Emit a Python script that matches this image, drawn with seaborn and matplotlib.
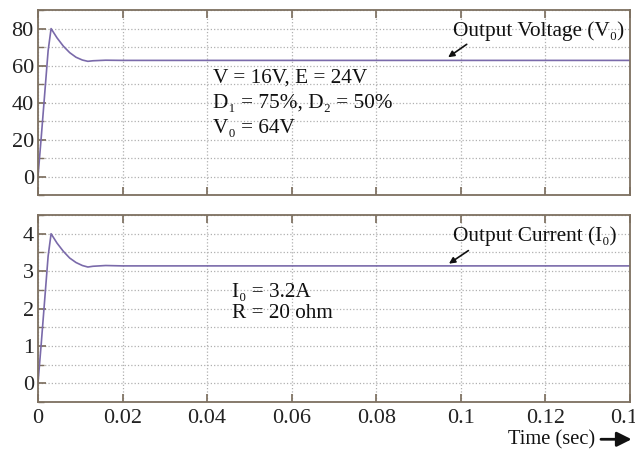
import numpy as np
import pandas as pd
import matplotlib
matplotlib.use('Agg')
import matplotlib.pyplot as plt
import seaborn as sns
from matplotlib.ticker import MultipleLocator

# datos
t_voltaje = [0, 0.0008, 0.0016, 0.0024, 0.0031, 0.0045, 0.006, 0.0075, 0.009, 0.0105, 0.0118, 0.013, 0.016, 0.02, 0.14]
voltaje = [0, 22, 45, 68, 80, 75, 70.5, 67, 64.5, 63, 62.3, 62.6, 62.9, 62.8, 62.8]
t_corriente = [0, 0.0008, 0.0016, 0.0024, 0.0031, 0.0045, 0.006, 0.0075, 0.009, 0.0105, 0.0118, 0.013, 0.016, 0.02, 0.14]
corriente = [0, 1.1, 2.25, 3.4, 4.0, 3.75, 3.53, 3.35, 3.23, 3.15, 3.11, 3.13, 3.15, 3.14, 3.14]

xticks = [0, 0.02, 0.04, 0.06, 0.08, 0.1, 0.12, 0.14]
xtick_labels = ['0', '0.02', '0.04', '0.06', '0.08', '0.1', '0.12', '0.14']

sns.set_theme(style='ticks')
plt.rcParams['font.family'] = ['Liberation Serif', 'DejaVu Serif']

color_linea = '#7a6aaa'
color_marco = '#7d7060'
color_grid = '#b0b0b0'

fig = plt.figure(figsize=(6.35, 4.51), dpi=100)
ax1 = fig.add_axes([0.0598, 0.5676, 0.9322, 0.410])
ax2 = fig.add_axes([0.0598, 0.1086, 0.9322, 0.4146])

df_v = pd.DataFrame({'t': t_voltaje, 'v': voltaje})
df_i = pd.DataFrame({'t': t_corriente, 'i': corriente})

sns.lineplot(data=df_v, x='t', y='v', ax=ax1, color=color_linea, linewidth=1.2)
sns.lineplot(data=df_i, x='t', y='i', ax=ax2, color=color_linea, linewidth=1.2)


def estilo(ax, ymin, ymax, ymaj, ymin_step):
    ax.set_xlim(0, 0.14)
    ax.set_ylim(ymin, ymax)
    ax.set_xticks(xticks)
    ax.yaxis.set_major_locator(MultipleLocator(ymaj))
    ax.yaxis.set_minor_locator(MultipleLocator(ymin_step))
    ax.grid(True, which='both', axis='y', linestyle=':', color=color_grid, linewidth=0.9)
    ax.grid(True, which='major', axis='x', linestyle=':', color=color_grid, linewidth=0.9)
    ax.tick_params(which='both', direction='in', top=True, right=False,
                   color=color_marco, labelsize=16, labelcolor='#222222')
    ax.tick_params(which='major', length=6)
    ax.tick_params(which='minor', length=4)
    ax.tick_params(axis='y', pad=3)
    for s in ax.spines.values():
        s.set_color(color_marco)
        s.set_linewidth(1.3)
    ax.set_xlabel('')
    ax.set_ylabel('')


estilo(ax1, -10, 90, 20, 10)
estilo(ax2, -0.5, 4.5, 1, 0.5)
ax1.set_xticklabels([])
ax2.set_xticklabels(xtick_labels)
ax2.tick_params(axis='x', pad=5)

txt = dict(fontsize=15.3, color='#111111')
flecha = dict(arrowstyle='-|>', color='#111111', lw=1.2, mutation_scale=9,
              shrinkA=0, shrinkB=0)

ax1.text(0.0414, 53, 'V = 16V, E = 24V', va='center', **txt)
ax1.text(0.0414, 39.5, 'D\u2081 = 75%, D\u2082 = 50%', va='center', **txt)
ax1.text(0.0414, 26, 'V\u2080 = 64V', va='center', **txt)
ax1.text(0.0982, 78.5, 'Output Voltage (V\u2080)', va='center', **txt)
ax1.annotate('', xy=(0.0970, 64.5), xytext=(0.1014, 71.5), arrowprops=flecha)

ax2.text(0.0459, 2.42, 'I\u2080 = 3.2A', va='center', **txt)
ax2.text(0.0459, 1.87, 'R = 20 ohm', va='center', **txt)
ax2.text(0.0982, 3.93, 'Output Current (I\u2080)', va='center', **txt)
ax2.annotate('', xy=(0.0972, 3.2), xytext=(0.1018, 3.55), arrowprops=flecha)

fig.text(0.800, 0.024, 'Time (sec)', fontsize=14.8, color='#111111', va='center')
fig.add_artist(matplotlib.patches.FancyArrowPatch((0.942, 0.026), (0.999, 0.026),
               transform=fig.transFigure, arrowstyle='-|>', mutation_scale=22,
               color='#111111', lw=2.0))

fig.savefig('out.png', dpi=100)
